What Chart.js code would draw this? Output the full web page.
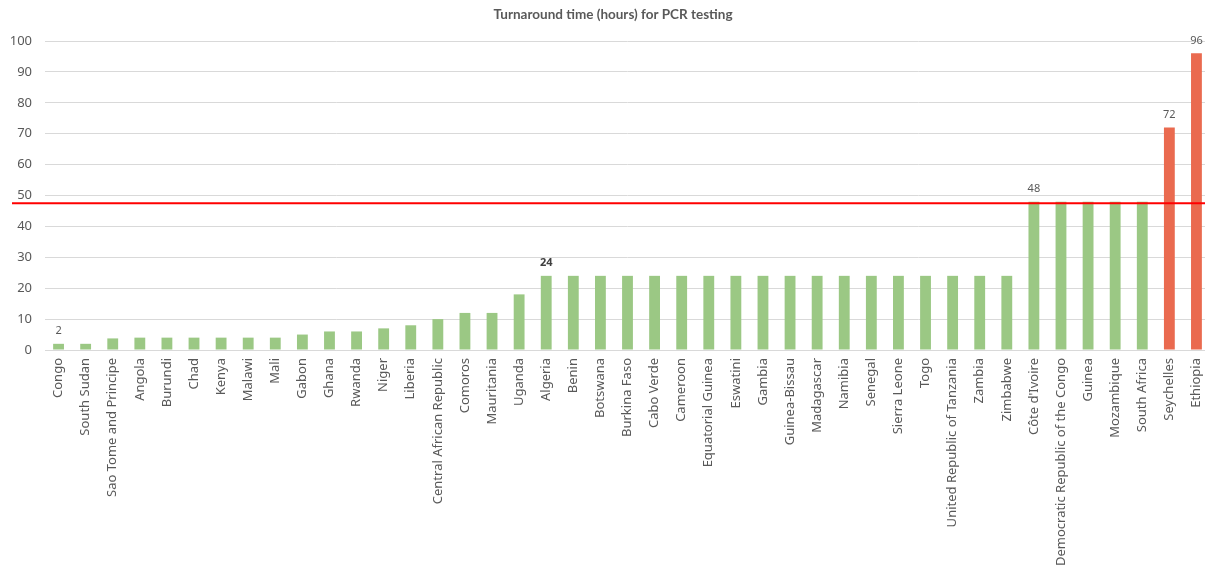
<!DOCTYPE html>
<html>
<head>
<meta charset="utf-8">
<script src="https://cdn.jsdelivr.net/npm/chart.js@4.4.0/dist/chart.umd.min.js"></script>
<style>
  html, body { margin: 0; padding: 0; background: #fff; overflow: hidden; }
  #wrap { width: 1210px; height: 569px; }
</style>
</head>
<body>
<div id="wrap"><canvas id="pcrChart"></canvas></div>
<script>
const COUNTRIES = [
    "Congo", "South Sudan", "Sao Tome and Principe", "Angola", "Burundi",
    "Chad", "Kenya", "Malawi", "Mali", "Gabon", "Ghana", "Rwanda", "Niger",
    "Liberia", "Central African Republic", "Comoros", "Mauritania", "Uganda",
    "Algeria", "Benin", "Botswana", "Burkina Faso", "Cabo Verde", "Cameroon",
    "Equatorial Guinea", "Eswatini", "Gambia", "Guinea-Bissau", "Madagascar",
    "Namibia", "Senegal", "Sierra Leone", "Togo", "United Republic of Tanzania",
    "Zambia", "Zimbabwe", "Côte d'Ivoire", "Democratic Republic of the Congo",
    "Guinea", "Mozambique", "South Africa", "Seychelles", "Ethiopia",
];
const HOURS = [
    2, 2, 3.75, 4, 4, 4, 4, 4, 4, 5, 6, 6, 7, 8, 10, 12, 12, 18,
    24, 24, 24, 24, 24, 24, 24, 24, 24, 24, 24, 24, 24, 24, 24, 24, 24, 24,
    48, 48, 48, 48, 48, 72, 96,
];
const Y_TICKS = [0, 10, 20, 30, 40, 50, 60, 70, 80, 90, 100];
const LABELLED = ["Congo", "Algeria", "Côte d'Ivoire", "Seychelles", "Ethiopia"];
const BOLD_LABELS = ["Algeria"];
const TARGET = 47.5;   // red reference line
const LIMIT = 48;      // bars above this are highlighted

const GREEN = "#9bc884";
const RED = "#ea6a4f";
const TEXT = "#595959";
const FONT = "'Noto Sans', 'Open Sans', sans-serif";

// value labels above selected bars
const barLabels = {
    id: "barLabels",
    afterDatasetsDraw(chart) {
        const ctx = chart.ctx;
        const meta = chart.getDatasetMeta(0);
        ctx.save();
        ctx.textAlign = "center";
        ctx.textBaseline = "middle";
        COUNTRIES.forEach((c, i) => {
            if (!LABELLED.includes(c)) return;
            const bar = meta.data[i];
            const bold = BOLD_LABELS.includes(c);
            ctx.font = (bold ? "bold " : "") + "11px " + FONT;
            ctx.fillStyle = bold ? "#404040" : TEXT;
            ctx.fillText(String(HOURS[i]), bar.x, bar.y - 13);
        });
        ctx.restore();
    },
};

// horizontal target line across the whole chart
const targetLine = {
    id: "targetLine",
    afterDatasetsDraw(chart) {
        const y = chart.scales.y.getPixelForValue(TARGET);
        const ctx = chart.ctx;
        ctx.save();
        ctx.strokeStyle = "#ff0000";
        ctx.lineWidth = 2;
        ctx.beginPath();
        ctx.moveTo(12, y);
        ctx.lineTo(chart.width, y);
        ctx.stroke();
        ctx.restore();
    },
};

const chartTitle = {
    id: "chartTitle",
    afterDraw(chart) {
        const ctx = chart.ctx;
        ctx.save();
        ctx.font = "bold 13.5px Lato, sans-serif";
        ctx.fillStyle = TEXT;
        ctx.textAlign = "center";
        ctx.textBaseline = "middle";
        ctx.fillText("Turnaround time (hours) for PCR testing", 613, 15);
        ctx.restore();
    },
};

new Chart(document.getElementById("pcrChart"), {
    type: "bar",
    data: {
        labels: COUNTRIES,
        datasets: [
            {
                data: HOURS,
                backgroundColor: HOURS.map((v) => (v > LIMIT ? RED : GREEN)),
                barPercentage: 0.4,
                categoryPercentage: 1,
            },
        ],
    },
    options: {
        responsive: true,
        maintainAspectRatio: false,
        animation: false,
        layout: { padding: { top: 41, right: 0, left: 0, bottom: 0 } },
        plugins: {
            legend: { display: false },
            tooltip: { enabled: false },
            title: { display: false },
        },
        scales: {
            x: {
                grid: { display: false, drawTicks: false },
                border: { color: "#d9d9d9" },
                ticks: {
                    color: TEXT,
                    font: { family: FONT, size: 13 },
                    minRotation: 90,
                    maxRotation: 90,
                    autoSkip: false,
                    padding: 8,
                },
                afterFit(scale) {
                    scale.height = 219;
                    scale.paddingLeft = 0;
                    scale.paddingRight = 0;
                },
            },
            y: {
                min: 0,
                max: 100,
                afterBuildTicks(scale) { scale.ticks = Y_TICKS.map((v) => ({ value: v })); },
                grid: { color: "#d9d9d9", drawTicks: false },
                border: { display: false },
                ticks: {
                    color: TEXT,
                    font: { family: FONT, size: 13 },
                    padding: 13,
                },
                afterFit(scale) {
                    scale.width = 45;
                    scale.paddingTop = 0;
                    scale.paddingBottom = 0;
                },
            },
        },
    },
    plugins: [barLabels, targetLine, chartTitle],
});
</script>
</body>
</html>
